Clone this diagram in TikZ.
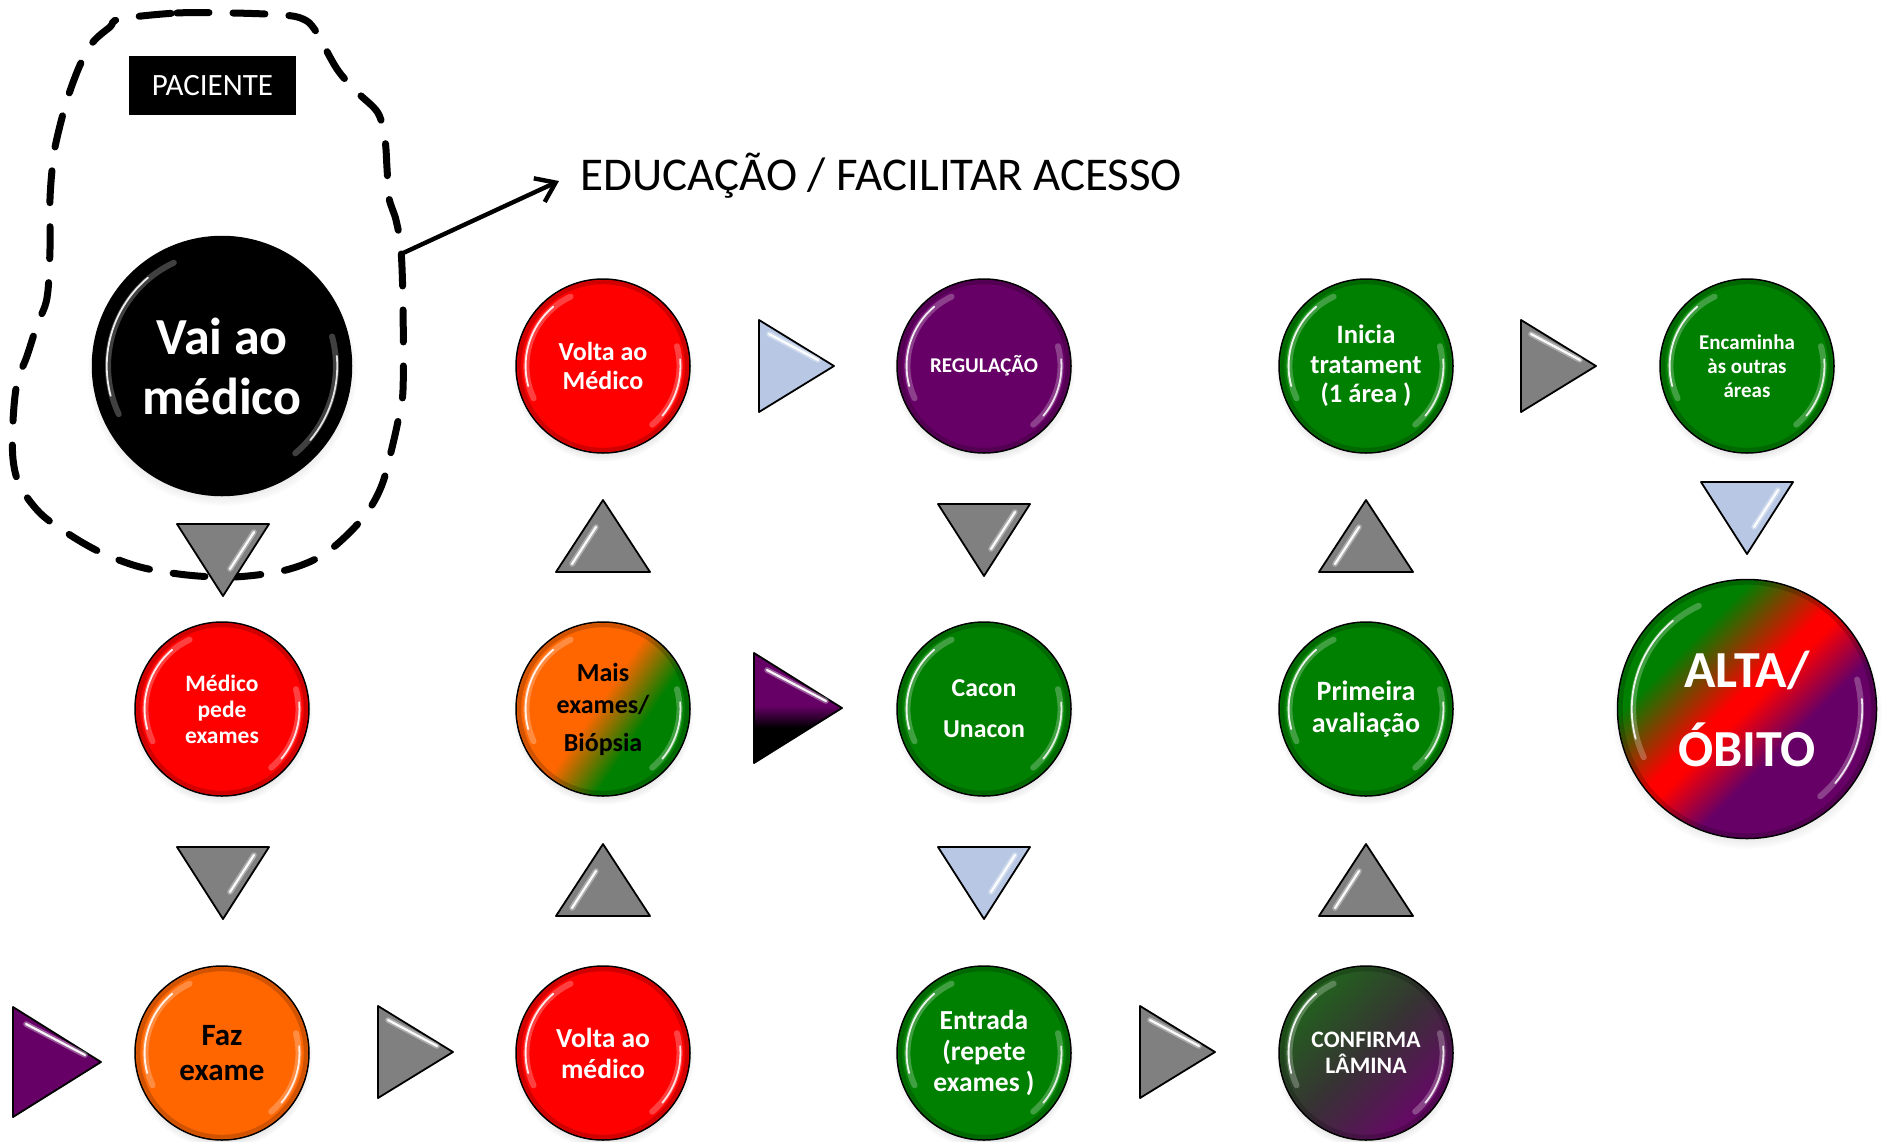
\documentclass[tikz,border=0pt]{standalone}
\usepackage{fontspec}
\setmainfont{Carlito}
\usetikzlibrary{shadows,arrows.meta,calc}

\definecolor{cred}{RGB}{255,0,0}
\definecolor{corange}{RGB}{255,102,0}
\definecolor{cgreen}{RGB}{0,128,0}
\definecolor{cpurple}{RGB}{102,0,102}
\definecolor{cgray}{RGB}{128,128,128}
\definecolor{cblue}{RGB}{184,200,228}
\definecolor{cdkgreen}{RGB}{35,95,30}
\definecolor{cdkgray}{RGB}{55,50,52}
\definecolor{cdkpurple}{RGB}{100,10,100}

\pgfdeclarehorizontalshading{orgr}{100bp}{color(0bp)=(corange); color(48bp)=(corange); color(62bp)=(cgreen); color(100bp)=(cgreen)}
\pgfdeclarehorizontalshading{altash}{100bp}{color(0bp)=(cgreen); color(33bp)=(cgreen); color(47bp)=(cred); color(50bp)=(cred); color(60bp)=(cpurple); color(100bp)=(cpurple)}
\pgfdeclarehorizontalshading{confsh}{100bp}{color(0bp)=(cdkgreen); color(28bp)=(cdkgreen); color(50bp)=(cdkgray); color(72bp)=(cdkpurple); color(100bp)=(cdkpurple)}
\pgfdeclareverticalshading{pblk}{100bp}{color(0bp)=(black); color(41bp)=(black); color(51bp)=(cpurple); color(100bp)=(cpurple)}

\newcommand\gloss[2]{%
 \begin{scope}[shift={(#1.center)},x=1pt,y=1pt]
  \draw[black, opacity=0.18, line width=2pt] (0,0) circle[radius={#2-1.6}];
  \draw[white, opacity=0.25, line width=3pt, line cap=round] (205:{#2*0.88}) arc[start angle=205, end angle=115, radius={#2*0.88}];
  \draw[white, opacity=0.9, line width=0.9pt, line cap=round] (195:{#2*0.89}) arc[start angle=195, end angle=130, radius={#2*0.89}];
  \draw[white, opacity=0.25, line width=3pt, line cap=round] (-50:{#2*0.88}) arc[start angle=-50, end angle=15, radius={#2*0.88}];
  \draw[white, opacity=0.85, line width=0.9pt, line cap=round] (-40:{#2*0.89}) arc[start angle=-40, end angle=5, radius={#2*0.89}];
 \end{scope}}

\newcommand\tridn[3][fill=cgray]{\begin{scope}[shift={(#2,#3)}]
 \draw[tri,#1] (-46,-36) -- (46,-36) -- (0,36) -- cycle;
 \draw[glintw] (31,-28) -- (7,9); \draw[glint] (31,-28) -- (7,9);
\end{scope}}
\newcommand\triup[3][fill=cgray]{\begin{scope}[shift={(#2,#3)}]
 \draw[tri,#1] (-47,36) -- (47,36) -- (0,-36) -- cycle;
 \draw[glintw] (-31,28) -- (-7,-9); \draw[glint] (-31,28) -- (-7,-9);
\end{scope}}
\newcommand\trirt[3][fill=cgray]{\begin{scope}[shift={(#2,#3)}]
 \draw[tri,#1] (-37,-46) -- (-37,46) -- (38,0) -- cycle;
 \draw[glintw] (-27,-32) -- (22,-6); \draw[glint] (-27,-32) -- (22,-6);
\end{scope}}
\newcommand\trirtb[3][fill=cpurple]{\begin{scope}[shift={(#2,#3)}]
 \draw[tri,#1] (-44,-55) -- (-44,55) -- (44,0) -- cycle;
 \draw[glintw] (-31,-38) -- (28,-7); \draw[glint] (-31,-38) -- (28,-7);
\end{scope}}

\begin{document}
\begin{tikzpicture}[x=0.5pt,y=-0.5pt,
 ball/.style={circle, draw=black, line width=0.75pt, minimum size=87pt, inner sep=0pt, align=center, text=white,
   circular drop shadow={shadow xshift=0pt, shadow yshift=-2.5pt, opacity=0.3, shadow scale=1.04}},
 tri/.style={draw=black, line width=0.9pt, line join=round},
 glintw/.style={white, opacity=0.35, line width=2.8pt, line cap=round},
 glint/.style={white, opacity=0.95, line width=1.1pt, line cap=round},
 blob/.style={line width=3.5pt, dash pattern=on 16pt off 12pt, line cap=round},
]
\fill[white] (0,0) rectangle (1884,1141);
\useasboundingbox (0,0) rectangle (1884,1141);

% dashed patient region
\draw[blob] plot[smooth cycle, tension=0.55] coordinates {
 (120,19) (177,13) (233,13) (283,15) (303,19) (315,30) (337,69) (357,92) (378,113) (385,140) (387,168) (389,198)
 (396,220) (401,250) (403,306) (403,390) (398,421) (391,452) (383,482) (372,505) (355,527) (330,550) (307,563)
 (277,572) (233,577) (187,575) (140,567) (100,552) (67,533) (40,513) (20,486) (13,459) (13,421) (17,383) (27,356)
 (37,325) (47,298) (50,249) (50,199) (53,161) (57,138) (67,100) (80,65) (93,42) (110,27)};

\node[fill=black, text=white, minimum width=83.5pt, minimum height=29.5pt, inner sep=0pt,
  font=\fontsize{15.5}{18}\selectfont] (pac) at (212.5,85.5) {PACIENTE};

\node[anchor=base west, inner sep=0pt, font=\fontsize{23.5}{28}\selectfont] (edu) at (580,190) {EDUCAÇÃO / FACILITAR ACESSO};
\coordinate (arrS) at (401,254);
\coordinate (arrE) at (559,181);
\draw[line width=2.2pt, -{Straight Barb[length=9pt,width=13pt]}] (arrS) -- (arrE);

% circles
\node[ball, fill=black, minimum size=129.5pt, font=\bfseries\fontsize{26}{30}\selectfont] (vai) at (222,366) {Vai ao\\médico};
\node[ball, fill=cred, font=\bfseries\fontsize{11.75}{13}\selectfont] (pede) at (222,709) {Médico\\pede\\exames};
\node[ball, fill=corange, text=black, font=\bfseries\fontsize{15.5}{17.5}\selectfont] (faz) at (222,1053) {Faz\\exame};
\node[ball, fill=cred, font=\bfseries\fontsize{13.75}{15.5}\selectfont] (voltab) at (603,1053) {Volta ao\\médico};
\node[ball, shade, shading=orgr, shading angle=-34, text=black, font=\bfseries\fontsize{13}{16}\selectfont] (mais) at (603,709) {Mais\\exames/\\[3pt]Biópsia};
\node[ball, fill=cred, font=\bfseries\fontsize{13}{14.5}\selectfont] (voltat) at (603,366) {Volta ao\\Médico};
\node[ball, fill=cpurple, font=\bfseries\fontsize{10.5}{12}\selectfont] (reg) at (984,366) {REGULAÇÃO};
\node[ball, fill=cgreen, font=\bfseries\fontsize{12.9}{20.5}\selectfont] (cacon) at (984,709) {Cacon\\Unacon};
\node[ball, fill=cgreen, font=\bfseries\fontsize{13.75}{15.3}\selectfont] (entrada) at (984,1053) {Entrada\\(repete\\exames )};
\node[ball, shade, shading=confsh, shading angle=-45, font=\bfseries\fontsize{11.8}{13.2}\selectfont] (conf) at (1366,1053) {CONFIRMA\\LÂMINA};
\node[ball, fill=cgreen, font=\bfseries\fontsize{14}{16}\selectfont] (prim) at (1366,709) {Primeira\\avaliação};
\node[ball, fill=cgreen, font=\bfseries\fontsize{13.3}{14.75}\selectfont] (inicia) at (1366,366) {Inicia\\tratament\\(1 área )};
\node[ball, fill=cgreen, font=\bfseries\fontsize{10.5}{12}\selectfont] (enc) at (1747,366) {Encaminha\\às outras\\áreas};
\node[ball, shade, shading=altash, shading angle=-45, minimum size=129.5pt, font=\bfseries\fontsize{26}{39.5}\selectfont] (alta) at (1747,709) {ALTA/\\ÓBITO};

\foreach \n in {pede,faz,voltab,mais,voltat,reg,cacon,entrada,conf,prim,inicia,enc} {\gloss{\n}{43.5}}
\gloss{vai}{64.75}
\gloss{alta}{64.75}

% triangles
\tridn{223}{560}
\tridn{223}{883}
\trirtb[fill=cpurple]{57}{1062}
\trirt{415}{1052}
\triup{603}{880}
\triup{603}{536}
\trirt[fill=cblue]{796}{366}
\tridn{984}{540}
\trirtb[shade,shading=pblk]{798}{708}
\tridn[fill=cblue]{984}{883}
\trirt{1177}{1052}
\triup{1366}{880}
\triup{1366}{536}
\trirt{1558}{366}
\tridn[fill=cblue]{1747}{518}
\end{tikzpicture}
\end{document}
